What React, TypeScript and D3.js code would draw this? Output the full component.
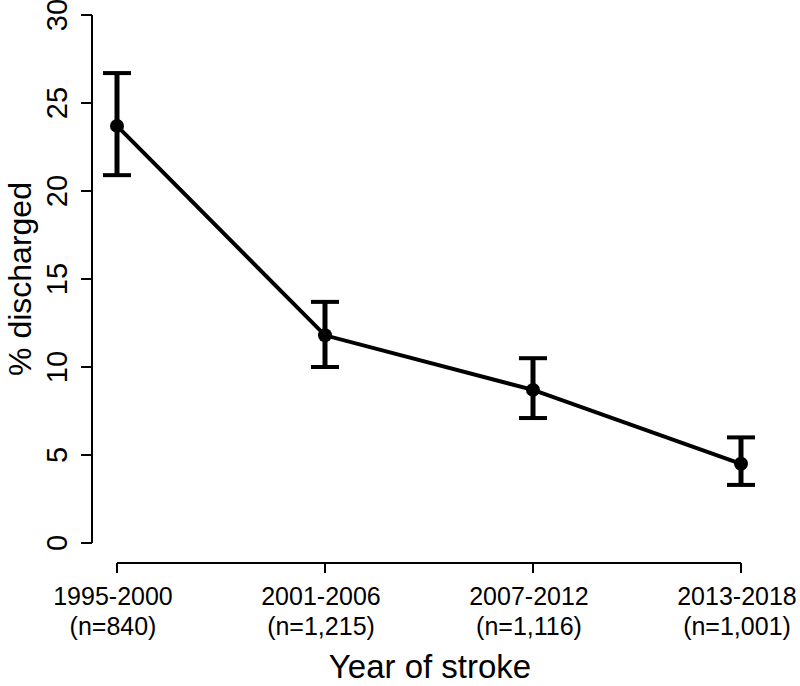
import React from "react";
import * as d3 from "d3";

const periods = ["1995-2000", "2001-2006", "2007-2012", "2013-2018"];
const sampleSizes = ["(n=840)", "(n=1,215)", "(n=1,116)", "(n=1,001)"];
const percentDischarged = [23.7, 11.8, 8.7, 4.5];
const lowerCI = [20.9, 10.0, 7.1, 3.3];
const upperCI = [26.7, 13.7, 10.5, 6.0];
const yTicks = [0, 5, 10, 15, 20, 25, 30];

const W = 800;
const H = 686;
const FONT = "'Liberation Sans', Arial, Helvetica, sans-serif";

export default function App() {
  const x = d3.scalePoint<string>().domain(periods).range([117, 741]);
  const y = d3.scaleLinear().domain([0, 30]).range([543, 15]);
  const axisX = 92;
  const axisY = 563;

  const pts = periods.map((p, i) => ({ p, v: percentDischarged[i], lo: lowerCI[i], hi: upperCI[i] }));
  const line = d3
    .line<{ p: string; v: number }>()
    .x((d) => x(d.p)!)
    .y((d) => y(d.v));

  const capHalf = 14;

  return (
    <svg width={W} height={H} style={{ display: "block", position: "absolute", left: 0, top: 0 }}>
      <rect width={W} height={H} fill="#fff" />
      {/* y axis */}
      <line x1={axisX} x2={axisX} y1={y(30)} y2={y(0)} stroke="#000" strokeWidth={2} />
      {yTicks.map((t) => (
        <g key={t}>
          <line x1={axisX - 11} x2={axisX} y1={y(t)} y2={y(t)} stroke="#000" strokeWidth={2} />
          <text
            transform={`translate(${67},${y(t)}) rotate(-90)`}
            textAnchor="middle"
            fontFamily={FONT}
            fontSize={29}
            fill="#000"
          >
            {t}
          </text>
        </g>
      ))}
      <text
        transform={`translate(${31},${(y(0) + y(30)) / 2}) rotate(-90)`}
        textAnchor="middle"
        fontFamily={FONT}
        fontSize={32}
        fill="#000"
      >
        % discharged
      </text>

      {/* x axis */}
      <line x1={x(periods[0])!} x2={x(periods[periods.length - 1])!} y1={axisY} y2={axisY} stroke="#000" strokeWidth={2} />
      {periods.map((p, i) => (
        <g key={p}>
          <line x1={x(p)!} x2={x(p)!} y1={axisY} y2={axisY + 10} stroke="#000" strokeWidth={2} />
          <text x={x(p)! - 4} y={605} textAnchor="middle" fontFamily={FONT} fontSize={25} fill="#000">
            {p}
          </text>
          <text x={x(p)! - 4} y={635} textAnchor="middle" fontFamily={FONT} fontSize={25} fill="#000">
            {sampleSizes[i]}
          </text>
        </g>
      ))}
      <text x={430} y={678} textAnchor="middle" fontFamily={FONT} fontSize={33} fill="#000">
        Year of stroke
      </text>

      {/* line */}
      <path d={line(pts)!} fill="none" stroke="#000" strokeWidth={4} />

      {/* error bars */}
      {pts.map((d) => (
        <g key={d.p} stroke="#000" strokeWidth={4}>
          <line x1={x(d.p)!} x2={x(d.p)!} y1={y(d.lo)} y2={y(d.hi)} strokeWidth={5} />
          <line x1={x(d.p)! - capHalf} x2={x(d.p)! + capHalf} y1={y(d.hi)} y2={y(d.hi)} />
          <line x1={x(d.p)! - capHalf} x2={x(d.p)! + capHalf} y1={y(d.lo)} y2={y(d.lo)} />
          <circle cx={x(d.p)!} cy={y(d.v)} r={7} fill="#000" stroke="none" />
        </g>
      ))}
    </svg>
  );
}
